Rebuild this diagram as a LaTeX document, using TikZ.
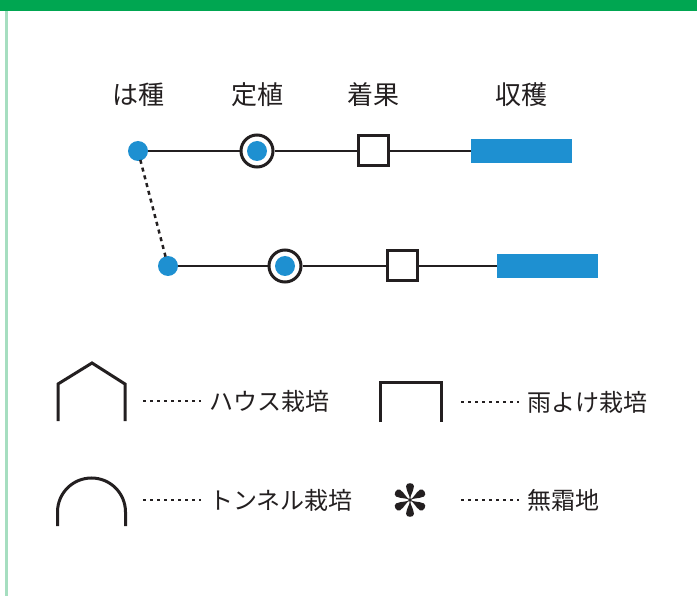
\documentclass[tikz,border=0pt]{standalone}
\usepackage{fontspec}
\newfontfamily\jp{Noto Sans CJK JP}
\definecolor{topgreen}{HTML}{00A651}
\definecolor{sidegreen}{HTML}{A6DEC0}
\definecolor{dotblue}{HTML}{1E90D1}
\definecolor{ink}{HTML}{231F20}
\tikzset{
  dotnode/.style={circle,fill=dotblue,inner sep=0pt,minimum size=20pt},
  ringnode/.style={circle,draw=ink,line width=3pt,fill=white,inner sep=0pt,minimum size=32pt},
  sqnode/.style={rectangle,draw=ink,line width=3pt,fill=white,inner sep=0pt,minimum size=30pt},
  barnode/.style={rectangle,fill=dotblue,inner sep=0pt,minimum width=101pt,minimum height=24pt},
  stagelabel/.style={font=\jp\fontsize{26}{26}\selectfont,text=ink,inner sep=0pt},
  legendlabel/.style={font=\jp\fontsize{24}{24}\selectfont,text=ink,inner sep=0pt,anchor=west},
  timeline/.style={draw=ink,line width=2.8pt},
  leader/.style={draw=ink,line width=2pt,dash pattern=on 3pt off 4pt},
  icon/.style={draw=ink,line width=3pt},
}
\begin{document}
\begin{tikzpicture}[x=1pt,y=-1pt]
\useasboundingbox (0,0) rectangle (697,596);
\fill[white] (0,0) rectangle (697,596);
\fill[topgreen] (0,0) rectangle (697,11);
\fill[sidegreen] (5,11) rectangle (7.5,596);

% stage labels
\node[stagelabel] (l1) at (138,95) {は種};
\node[stagelabel] (l2) at (257,95) {定植};
\node[stagelabel] (l3) at (373,95) {着果};
\node[stagelabel] (l4) at (521,95) {収穫};

% row 1
\node[dotnode] (s1) at (138,151) {};
\node[ringnode] (p1) at (257,151) {};
\node[dotnode] (pi1) at (257,151) {};
\node[sqnode] (f1) at (373,151) {};
\node[barnode] (h1) at (521.5,151) {};
\draw[timeline] (s1) -- (p1);
\draw[timeline] (p1) -- (f1);
\draw[timeline] (f1) -- (h1);

% row 2
\node[dotnode] (s2) at (168,266) {};
\node[ringnode] (p2) at (285,266) {};
\node[dotnode] (pi2) at (285,266) {};
\node[sqnode] (f2) at (402,266) {};
\node[barnode] (h2) at (547.5,266) {};
\draw[timeline] (s2) -- (p2);
\draw[timeline] (p2) -- (f2);
\draw[timeline] (f2) -- (h2);

\draw[draw=ink,line width=2.5pt,dash pattern=on 4pt off 4pt,shorten <=-1pt,shorten >=-1pt] (s1) -- (s2);

% legend: house
\draw[icon,line join=miter] (58,421) -- (58,384) -- (92,363) -- (125,384) -- (125,421);
\coordinate (ha) at (143,401);
\coordinate (hb) at (201,401);
\draw[leader] (ha) -- (hb);
\node[legendlabel] (t1) at (209,401) {ハウス栽培};

% legend: rain shelter
\draw[icon,line join=miter] (380.5,422) -- (380.5,383) -- (441.5,383) -- (441.5,422);
\coordinate (ra) at (461,402);
\coordinate (rb) at (519,402);
\draw[leader] (ra) -- (rb);
\node[legendlabel] (t2) at (527,402) {雨よけ栽培};

% legend: tunnel
\draw[icon] (57.5,526) -- (57.5,512) arc[start angle=180,end angle=360,radius=34] -- (125.5,526);
\coordinate (ta) at (143,500);
\coordinate (tb) at (201,500);
\draw[leader] (ta) -- (tb);
\node[legendlabel] (t3) at (209,500) {トンネル栽培};

% legend: frost-free asterisk
\begin{scope}[shift={(410,500)}]
\foreach \a in {0,60,120,180,240,300}{
  \fill[ink,rotate=\a] (0,0) -- (-0.8,-4) .. controls (-2.2,-8) and (-4,-11) .. (-4,-13.8)
     .. controls (-4,-17.8) and (4,-17.8) .. (4,-13.8)
     .. controls (4,-11) and (2.2,-8) .. (0.8,-4) -- cycle;
}
\fill[ink] (0,0) circle (1.8);
\end{scope}
\coordinate (fa) at (461,500);
\coordinate (fb) at (519,500);
\draw[leader] (fa) -- (fb);
\node[legendlabel] (t4) at (527,500) {無霜地};
\end{tikzpicture}
\end{document}
